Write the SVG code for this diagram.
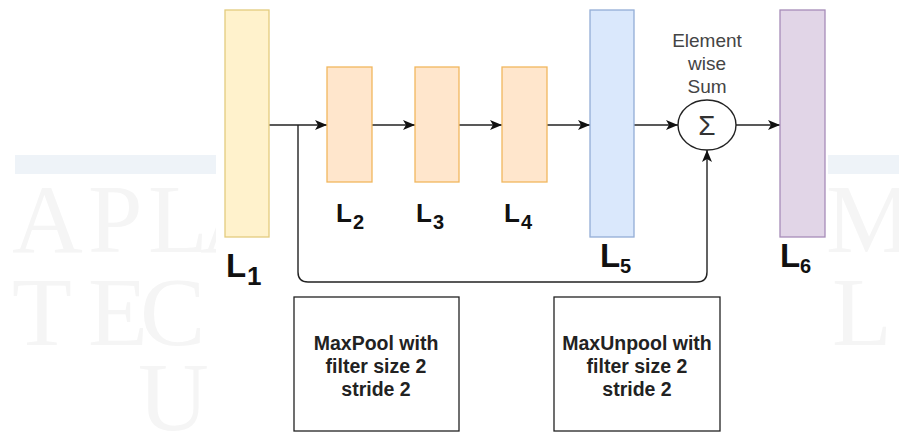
<svg xmlns="http://www.w3.org/2000/svg" width="899" height="433" viewBox="0 0 899 433">
<style>
  .wm { font-family: "Liberation Serif", serif; font-size: 98px; fill: #f5f5f5; }
  .band { fill: #eef3f8; }
  .lay { stroke-width: 1.3; }
  .lbl { font-family: "Liberation Sans", Arial, sans-serif; font-weight: bold; fill: #111; }
  .conn { fill: none; stroke: #222; stroke-width: 1.4; }
  .box { fill: #fff; stroke: #222; stroke-width: 1.3; }
  .btxt { font-family: "Liberation Sans", Arial, sans-serif; font-weight: bold; font-size: 19.5px; fill: #222; text-anchor: middle; }
  .note { font-family: "Liberation Sans", Arial, sans-serif; font-size: 19px; fill: #444; text-anchor: middle; }
</style>
<defs>
  <marker id="arr" viewBox="0 0 12 10" refX="12" refY="5" markerWidth="12" markerHeight="10" markerUnits="userSpaceOnUse" orient="auto">
    <path d="M0,0 L12,5 L0,10 L3,5 Z" fill="#111"/>
  </marker>
  <clipPath id="wl"><rect x="0" y="0" width="216" height="433"/></clipPath>
  <clipPath id="wr"><rect x="828" y="0" width="71" height="433"/></clipPath>
</defs>
<rect width="899" height="433" fill="#fff"/>
<g id="watermark">
  <g clip-path="url(#wl)">
    <rect class="band" x="15" y="155" width="201" height="19"/>
    <text class="wm"><tspan x="12 88 148 200" y="252">APLA</tspan></text>
    <text class="wm"><tspan x="12 88 140" y="345">TEC</tspan></text>
    <text class="wm"><tspan x="138" y="430">U</tspan></text>
  </g>
  <g clip-path="url(#wr)">
    <rect class="band" x="828" y="155" width="71" height="19"/>
    <text class="wm"><tspan x="826" y="252">M</tspan></text>
    <text class="wm"><tspan x="832" y="345">L</tspan></text>
  </g>
</g>
<g id="connectors">
  <line class="conn" x1="269" y1="125" x2="327" y2="125" marker-end="url(#arr)"/>
  <line class="conn" x1="372" y1="125" x2="415" y2="125" marker-end="url(#arr)"/>
  <line class="conn" x1="459" y1="125" x2="502" y2="125" marker-end="url(#arr)"/>
  <line class="conn" x1="547" y1="125" x2="590" y2="125" marker-end="url(#arr)"/>
  <line class="conn" x1="634" y1="125" x2="678" y2="125" marker-end="url(#arr)"/>
  <line class="conn" x1="736" y1="125" x2="780" y2="125" marker-end="url(#arr)"/>
  <path class="conn" d="M298,125 V272 Q298,282 308,282 H697 Q707,282 707,272 V150" marker-end="url(#arr)"/>
</g>
<g id="L1">
  <rect class="lay" x="225" y="10" width="44" height="227" fill="#fff2cc" stroke="#e3cb7e"/>
  <text class="lbl" x="226" y="277" font-size="33">L</text>
  <text class="lbl" x="247" y="285" font-size="26">1</text>
</g>
<g id="L2">
  <rect class="lay" x="327" y="67" width="45" height="115" fill="#ffe6cc" stroke="#f1b75e"/>
  <text class="lbl" x="336" y="222" font-size="26">L</text>
  <text class="lbl" x="353" y="229" font-size="20">2</text>
</g>
<g id="L3">
  <rect class="lay" x="415" y="67" width="44" height="115" fill="#ffe6cc" stroke="#f1b75e"/>
  <text class="lbl" x="416" y="222" font-size="26">L</text>
  <text class="lbl" x="433" y="229" font-size="20" font-weight="normal">3</text>
</g>
<g id="L4">
  <rect class="lay" x="502" y="67" width="45" height="115" fill="#ffe6cc" stroke="#f1b75e"/>
  <text class="lbl" x="504" y="222" font-size="26">L</text>
  <text class="lbl" x="521" y="229" font-size="20">4</text>
</g>
<g id="L5">
  <rect class="lay" x="590" y="10" width="44" height="227" fill="#dae8fc" stroke="#93add6"/>
  <text class="lbl" x="600" y="267" font-size="33">L</text>
  <text class="lbl" x="620" y="273" font-size="20">5</text>
</g>
<g id="sum">
  <text class="note" x="707" y="47">Element</text>
  <text class="note" x="707" y="70">wise</text>
  <text class="note" x="707" y="93">Sum</text>
  <ellipse cx="707" cy="125" rx="29" ry="25" fill="#fff" stroke="#222" stroke-width="1.4"/>
  <text x="707" y="135" font-family="'Liberation Sans', sans-serif" font-size="28" fill="#333" text-anchor="middle">Σ</text>
</g>
<g id="L6">
  <rect class="lay" x="780" y="10" width="45" height="227" fill="#e1d5e7" stroke="#a68cb8"/>
  <text class="lbl" x="780" y="267" font-size="33">L</text>
  <text class="lbl" x="800" y="273" font-size="20">6</text>
</g>
<g id="maxpool">
  <rect class="box" x="294" y="297" width="165" height="134"/>
  <text class="btxt" x="376" y="350">MaxPool with</text>
  <text class="btxt" x="376" y="373">filter size 2</text>
  <text class="btxt" x="376" y="396">stride 2</text>
</g>
<g id="maxunpool">
  <rect class="box" x="554" y="297" width="166" height="134"/>
  <text class="btxt" x="637" y="350">MaxUnpool with</text>
  <text class="btxt" x="637" y="373">filter size 2</text>
  <text class="btxt" x="637" y="396">stride 2</text>
</g>
</svg>
